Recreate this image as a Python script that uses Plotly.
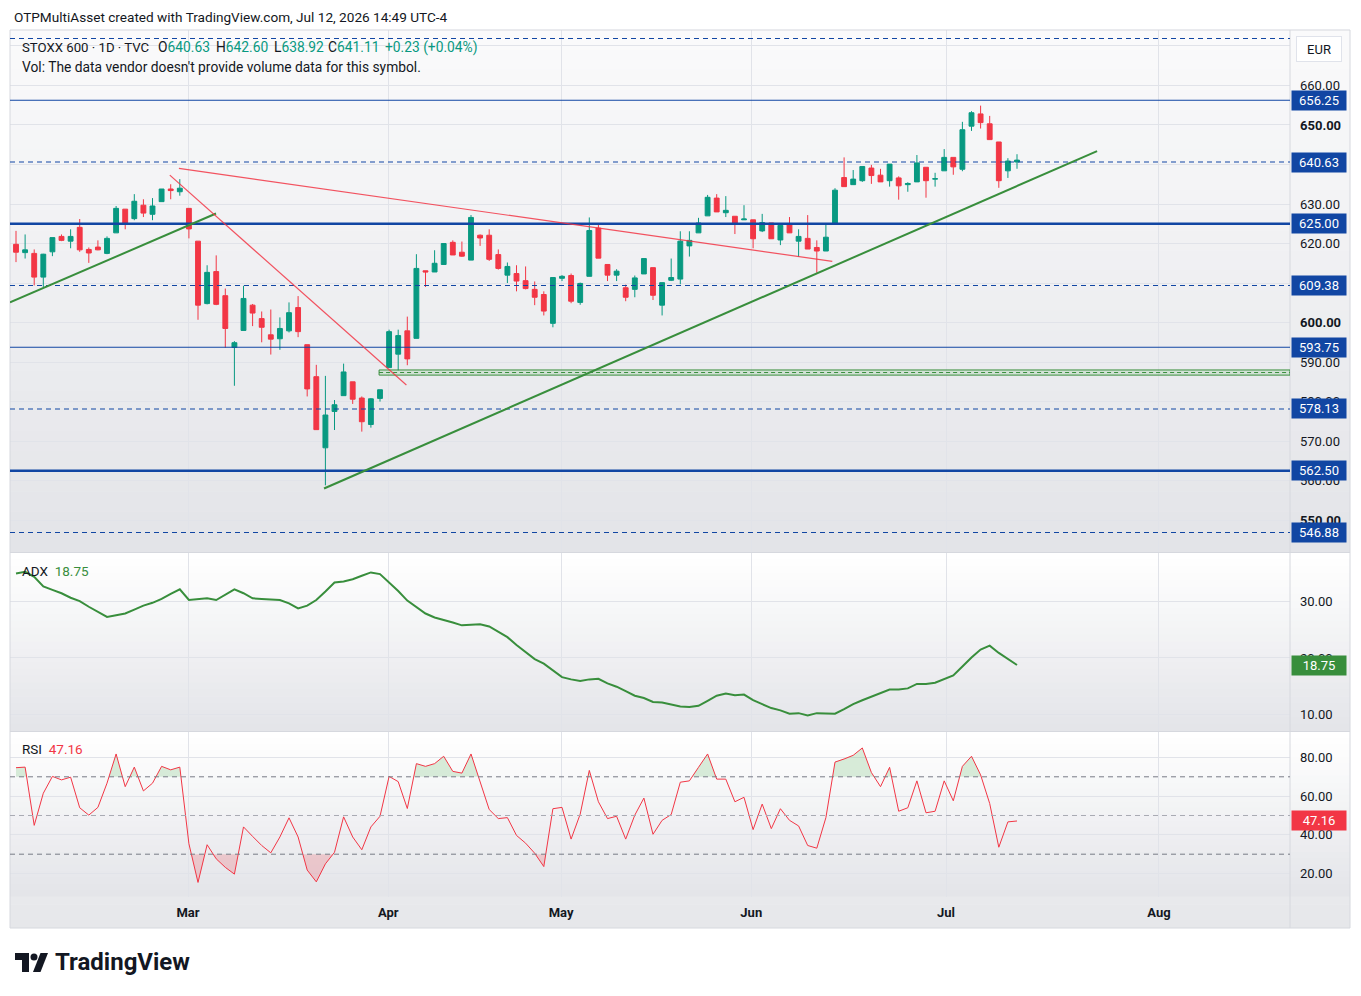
import plotly.graph_objects as go

W, H = 1361, 996

# ---------------- data ----------------
opens = [619.8, 617.7, 617.5, 611.5, 617.9, 621.8, 620.6, 624.1, 618.5, 619.1,
         617.5, 622.7, 628.7, 626.3, 629.7, 627.4, 630.6, 633.8, 633.1, 628.9,
         620.6, 604.8, 612.9, 606.8, 593.7, 598.0, 604.4, 601.0, 596.9, 595.9,
         597.9, 603.8, 594.4, 586.3, 568.3, 577.5, 581.5, 585.0, 580.9, 574.2,
         580.8, 588.6, 592.0, 597.9, 596.0, 613.1, 612.8, 614.7, 620.3, 617.8,
         615.8, 622.1, 622.1, 617.2, 612.0, 612.4, 610.6, 608.4, 607.1, 599.8,
         611.2, 611.9, 605.1, 611.7, 623.9, 614.7, 612.0, 608.8, 608.4, 612.3,
         613.9, 604.4, 610.7, 611.0, 619.4, 622.7, 627.0, 631.5, 627.8, 626.9,
         626.0, 626.0, 623.2, 625.2, 620.9, 624.9, 620.6, 621.3, 619.0, 618.1,
         625.0, 636.7, 634.9, 635.9, 639.1, 637.3, 635.9, 636.6, 634.9, 635.6,
         639.3, 636.3, 638.4, 641.8, 638.8, 649.7, 652.8, 650.3, 645.7, 638.4,
         640.63]
highs = [623.2, 622.3, 618.5, 617.4, 621.5, 622.3, 623.6, 626.2, 619.0, 620.8,
         621.8, 629.5, 628.7, 632.5, 631.2, 631.5, 633.8, 635.0, 636.3, 628.9,
         620.6, 614.5, 617.0, 608.6, 595.3, 609.3, 604.7, 602.8, 603.3, 601.3,
         605.1, 606.7, 594.4, 589.3, 586.5, 580.4, 589.6, 585.0, 581.3, 580.9,
         583.0, 598.2, 598.2, 601.5, 617.3, 613.1, 618.3, 620.0, 620.8, 620.5,
         627.2, 622.3, 623.6, 618.5, 615.2, 614.5, 614.2, 610.4, 607.9, 611.4,
         612.0, 612.4, 610.1, 626.6, 625.0, 614.7, 613.5, 609.6, 611.9, 616.2,
         613.9, 610.1, 616.2, 623.1, 623.1, 626.5, 632.3, 632.5, 632.0, 626.9,
         629.7, 626.0, 627.5, 625.2, 624.6, 626.7, 623.6, 627.2, 620.8, 625.2,
         634.0, 641.8, 638.6, 639.5, 639.9, 638.9, 640.1, 637.0, 635.5, 642.4,
         639.3, 637.9, 643.9, 641.8, 650.8, 653.5, 654.9, 652.3, 645.7, 641.6,
         642.60]
lows = [615.3, 616.2, 609.4, 609.0, 616.8, 620.6, 618.8, 617.9, 615.1, 618.3,
        617.3, 622.7, 623.6, 625.9, 626.7, 625.9, 630.6, 631.2, 632.1, 621.3,
        600.7, 604.6, 604.4, 593.6, 584.0, 598.0, 599.1, 595.0, 591.9, 593.1,
        597.5, 596.3, 581.3, 572.9, 558.8, 572.8, 581.5, 579.4, 572.4, 573.4,
        580.0, 588.6, 587.9, 589.2, 596.0, 609.0, 612.8, 614.7, 617.1, 616.6,
        615.8, 619.4, 615.6, 613.4, 610.0, 607.9, 608.4, 604.4, 601.8, 598.8,
        610.5, 604.9, 604.5, 611.7, 616.3, 610.5, 610.5, 605.4, 606.4, 612.3,
        605.7, 601.8, 610.5, 609.7, 616.7, 622.7, 627.0, 628.0, 626.7, 622.4,
        626.0, 618.8, 622.9, 621.2, 619.6, 622.7, 616.6, 618.6, 612.6, 618.1,
        625.0, 634.4, 634.9, 635.6, 635.1, 635.6, 634.4, 631.1, 633.1, 635.6,
        631.6, 634.4, 638.4, 637.4, 638.3, 648.5, 649.1, 646.3, 634.1, 636.6,
        638.92]
closes = [617.8, 618.4, 611.5, 617.3, 621.5, 620.8, 621.8, 618.4, 617.6, 618.4,
          621.3, 628.9, 625.1, 630.7, 627.7, 629.5, 633.8, 633.4, 634.0, 623.7,
          604.4, 612.7, 604.6, 598.5, 594.9, 606.1, 602.4, 598.8, 595.8, 598.5,
          602.5, 597.7, 583.2, 572.9, 576.6, 579.2, 587.5, 580.6, 574.9, 580.7,
          583.0, 597.7, 596.7, 590.8, 613.7, 612.8, 615.0, 620.0, 617.1, 616.8,
          626.6, 621.4, 616.0, 613.7, 614.2, 610.5, 608.6, 606.4, 602.9, 611.4,
          611.7, 605.4, 609.9, 623.3, 616.3, 612.0, 613.0, 606.4, 611.3, 616.2,
          606.9, 610.1, 611.4, 620.6, 620.8, 625.2, 631.7, 628.0, 628.4, 625.2,
          626.2, 621.2, 625.3, 621.2, 624.6, 622.7, 621.8, 618.6, 618.1, 621.6,
          633.5, 634.4, 636.3, 639.5, 637.2, 635.6, 640.1, 634.6, 635.2, 640.4,
          635.9, 636.4, 641.8, 639.4, 648.8, 653.1, 650.6, 646.3, 635.9, 640.88,
          641.11]

adx = [35.0, 35.3, 34.4, 32.7, 32.1, 31.5, 30.7, 30.1, 29.1, 28.2,
       27.3, 27.6, 27.9, 28.6, 29.3, 29.8, 30.5, 31.4, 32.2, 30.3,
       30.5, 30.6, 30.3, 31.2, 32.2, 31.5, 30.6, 30.5, 30.4, 30.3,
       29.7, 28.8, 29.3, 30.3, 31.8, 33.4, 33.6, 34.0, 34.6, 35.2,
       34.9, 33.4, 31.9, 30.2, 29.1, 27.9, 27.2, 26.8, 26.3, 25.8,
       25.9, 26.0, 25.6, 24.7, 23.7, 22.3, 21.0, 19.8, 19.0, 17.8,
       16.6, 16.2, 15.9, 16.2, 16.3, 15.5, 14.9, 14.1, 13.3, 12.9,
       12.2, 12.1, 11.7, 11.4, 11.3, 11.5, 12.4, 13.3, 13.7, 13.4,
       13.5, 12.5, 11.8, 11.1, 10.7, 10.1, 10.2, 9.8, 10.2, 10.1,
       10.1, 10.9, 11.8, 12.5, 13.1, 13.7, 14.4, 14.4, 14.6, 15.4,
       15.4, 15.6, 16.3, 16.9, 18.5, 20.1, 21.5, 22.2, 20.9, 19.8,
       18.75]

rsi = [74.7, 75.0, 44.9, 61.5, 70.2, 68.4, 69.8, 54.0, 50.2, 54.2,
       66.7, 81.8, 64.9, 75.0, 62.7, 66.7, 75.4, 73.6, 75.0, 35.4,
       15.4, 34.9, 27.6, 23.2, 19.7, 44.1, 39.2, 34.5, 30.7, 38.9,
       48.8, 38.9, 21.8, 15.7, 25.0, 31.0, 49.3, 38.9, 32.3, 44.1,
       49.6, 70.2, 67.5, 53.6, 76.8, 75.4, 76.8, 80.6, 72.8, 71.9,
       81.8, 67.5, 53.1, 48.4, 48.9, 39.7, 35.7, 30.5, 23.6, 53.5,
       54.2, 37.8, 50.7, 73.3, 57.1, 48.4, 49.6, 37.8, 50.2, 59.0,
       40.3, 47.5, 50.5, 67.2, 67.9, 74.9, 81.8, 68.8, 68.8, 57.1,
       59.4, 42.7, 55.9, 43.2, 53.5, 47.5, 44.6, 34.5, 33.1, 48.9,
       77.6, 79.2, 81.1, 84.9, 72.2, 64.9, 74.9, 52.2, 54.0, 67.9,
       51.4, 52.2, 67.9, 57.6, 75.4, 80.6, 71.0, 56.2, 33.6, 46.7,
       47.16]

month_ticks = [18.9, 40.9, 59.9, 80.8, 102.2, 125.6]
month_labels = ["Mar", "Apr", "May", "Jun", "Jul", "Aug"]

level_values = [671.88, 656.25, 640.63, 625.00, 609.38, 593.75, 578.13, 562.50, 546.88]
level_kinds = ["dash", "solid", "dash", "thick", "dash", "solid", "dash", "thick", "dash"]
level_labelled = [False, True, True, True, True, True, True, True, True]

price_ticks = [550, 560, 570, 580, 590, 600, 610, 620, 630, 640, 650, 660, 670]
price_tick_text = ["<b>550.00</b>", "560.00", "570.00", "580.00", "590.00", "<b>600.00</b>", "",
                   "620.00", "630.00", "", "<b>650.00</b>", "660.00", ""]
adx_ticks = [10, 20, 30]
rsi_ticks = [20, 40, 60, 80]
rsi_levels = [70, 50, 30]

symbol_info = "STOXX 600 · 1D · TVC"
ohlc_labels = ["O", "H", "L", "C"]
ohlc_values = ["640.63", "642.60", "638.92", "641.11"]
change_text = "+0.23 (+0.04%)"

# drawings: (x0, x1) in bar index, (y0, y1) in price
green_lines = [([-0.66, 21.98], [605.1, 627.6]), ([33.85, 118.8], [558.0, 643.4])]
red_lines = [([16.9, 42.9], [637.3, 584.2]), ([17.9, 89.7], [639.0, 615.5])]
zone_start, zone_low, zone_high = 39.9, 586.7, 588.0

last_adx, last_rsi = 18.75, 47.16

# ---------------- helpers ----------------
def px(x):
    return x / W


def py(y):
    return 1 - y / H


X0, X1, XA = 10, 1290, 1350
XR = [-0.66, 140.0]
P_TOP, P_BOT = 30, 552
A_TOP, A_BOT = 553, 731
R_TOP, R_BOT = 732, 897
AX_BOT = 928

UP, DN = "#089981", "#f23645"
BLUE = "#1146a3"
GREEN = "#388e3c"
GRID = "#e1e3e9"
TXT = "#131722"
FONT = "Roboto"

idx = list(range(len(closes)))

fig = go.Figure()

fig.add_trace(go.Candlestick(
    x=idx, open=opens, high=highs, low=lows, close=closes,
    increasing=dict(line=dict(color=UP, width=1), fillcolor=UP),
    decreasing=dict(line=dict(color=DN, width=1), fillcolor=DN),
    whiskerwidth=0, xaxis="x", yaxis="y", hoverinfo="skip", showlegend=False))

fig.add_trace(go.Scatter(x=idx, y=adx, mode="lines", line=dict(color=GREEN, width=2),
                         xaxis="x2", yaxis="y2", hoverinfo="skip", showlegend=False))

# RSI fills (computed crossing points)
dx, dy = [], []
for i, v in enumerate(rsi):
    if i > 0:
        a, b = rsi[i - 1], v
        cr = []
        for lvl in (70, 30):
            if (a - lvl) * (b - lvl) < 0:
                t = (lvl - a) / (b - a)
                cr.append((t, lvl))
        for t, lvl in sorted(cr):
            dx.append(i - 1 + t)
            dy.append(lvl)
    dx.append(i)
    dy.append(v)

fig.add_trace(go.Scatter(x=dx, y=[70] * len(dx), mode="lines", line=dict(width=0),
                         xaxis="x3", yaxis="y3", hoverinfo="skip", showlegend=False))
fig.add_trace(go.Scatter(x=dx, y=[max(v, 70) for v in dy], mode="lines", line=dict(width=0),
                         fill="tonexty", fillcolor="rgba(76,175,80,0.20)",
                         xaxis="x3", yaxis="y3", hoverinfo="skip", showlegend=False))
fig.add_trace(go.Scatter(x=dx, y=[30] * len(dx), mode="lines", line=dict(width=0),
                         xaxis="x3", yaxis="y3", hoverinfo="skip", showlegend=False))
fig.add_trace(go.Scatter(x=dx, y=[min(v, 30) for v in dy], mode="lines", line=dict(width=0),
                         fill="tonexty", fillcolor="rgba(242,54,69,0.20)",
                         xaxis="x3", yaxis="y3", hoverinfo="skip", showlegend=False))
fig.add_trace(go.Scatter(x=idx, y=rsi, mode="lines", line=dict(color="#f23645", width=1),
                         xaxis="x3", yaxis="y3", hoverinfo="skip", showlegend=False))

shapes = []


def grad(y0, y1, c0, c1, n=26):
    for k in range(n):
        t = k / (n - 1)
        c = tuple(round(c0[j] + (c1[j] - c0[j]) * t) for j in range(3))
        ya = y0 + (y1 - y0) * k / n
        yb = y0 + (y1 - y0) * (k + 1) / n
        shapes.append(dict(type="rect", xref="paper", yref="paper",
                           x0=px(X0), x1=px(XA), y0=py(yb), y1=py(ya) + 0.0006,
                           fillcolor="rgb(%d,%d,%d)" % c, line=dict(width=0), layer="below"))


grad(P_TOP, P_BOT, (250, 250, 251), (227, 228, 232))
grad(A_TOP, A_BOT, (255, 255, 255), (228, 229, 233))
grad(R_TOP, R_BOT, (255, 255, 255), (228, 229, 233))
grad(R_BOT, AX_BOT, (232, 233, 236), (230, 231, 234), 4)

# separators / frame
for yy in (P_TOP, A_TOP - 0.5, R_TOP - 0.5, AX_BOT):
    shapes.append(dict(type="line", xref="paper", yref="paper", x0=px(X0), x1=px(XA),
                       y0=py(yy), y1=py(yy), line=dict(color="#d6d8de", width=1), layer="above"))
for xx in (X0, X1, XA):
    shapes.append(dict(type="line", xref="paper", yref="paper", x0=px(xx), x1=px(xx),
                       y0=py(P_TOP), y1=py(AX_BOT), line=dict(color="#d6d8de", width=1), layer="above"))

# horizontal levels
for v, kind in zip(level_values, level_kinds):
    shapes.append(dict(type="line", xref="paper", yref="y", x0=px(X0), x1=px(X1), y0=v, y1=v,
                       line=dict(color=BLUE, width=2.4 if kind == "thick" else 1.1,
                                 dash="5px,4px" if kind == "dash" else "solid"),
                       layer="above"))

# RSI level lines
for v in rsi_levels:
    shapes.append(dict(type="line", xref="paper", yref="y3", x0=px(X0), x1=px(X1), y0=v, y1=v,
                       line=dict(color="#787b86" if v != 50 else "#a9abb3", width=1, dash="5px,4px"),
                       layer="above"))

# zone
shapes.append(dict(type="rect", xref="x", yref="y", x0=zone_start, x1=XR[1], y0=zone_low, y1=zone_high,
                   fillcolor="rgba(76,175,80,0.15)", line=dict(color=GREEN, width=1), layer="above"))
shapes.append(dict(type="line", xref="x", yref="y", x0=zone_start, x1=XR[1],
                   y0=(zone_low + zone_high) / 2, y1=(zone_low + zone_high) / 2,
                   line=dict(color=GREEN, width=1, dash="4px,3px"), layer="above"))

for xs, ys in green_lines:
    shapes.append(dict(type="line", xref="x", yref="y", x0=xs[0], x1=xs[1], y0=ys[0], y1=ys[1],
                       line=dict(color=GREEN, width=2), layer="above"))
for xs, ys in red_lines:
    shapes.append(dict(type="line", xref="x", yref="y", x0=xs[0], x1=xs[1], y0=ys[0], y1=ys[1],
                       line=dict(color="rgba(242,54,69,0.85)", width=1.2), layer="above"))

# TradingView logo


def path(pts):
    return "M " + " L ".join("%f,%f" % (px(a), py(b)) for a, b in pts) + " Z"


shapes.append(dict(type="path", xref="paper", yref="paper",
                   path=path([(15, 953), (29, 953), (29, 972), (22, 972), (22, 960), (15, 960)]),
                   fillcolor=TXT, line=dict(width=0)))
shapes.append(dict(type="circle", xref="paper", yref="paper", x0=px(30.5), x1=px(37.5),
                   y0=py(960.5), y1=py(953.5), fillcolor=TXT, line=dict(width=0)))
shapes.append(dict(type="path", xref="paper", yref="paper",
                   path=path([(40.5, 953), (48, 953), (40.5, 972), (33, 972)]),
                   fillcolor=TXT, line=dict(width=0)))

ann = []
NB = "\u00a0"


def text_at(x, y, text, size=13.8, color=TXT, bold=False):
    return dict(x=px(x), y=py(y), xref="paper", yref="paper", xanchor="left", yanchor="middle",
                text=("<b>%s</b>" % text) if bold else text, showarrow=False,
                font=dict(family=FONT, size=size, color=color))


ann.append(text_at(12, 17, "OTPMultiAsset created with TradingView.com, Jul 12, 2026 14:49 UTC-4", 13.6))

ann.append(text_at(20, 47, symbol_info, 13.2))
for lab, val, xpos in zip(ohlc_labels, ohlc_values, [156, 214, 272, 326]):
    ann.append(text_at(xpos, 47, lab + "<span style='color:%s'>%s</span>" % (UP, val), 13.8))
ann.append(text_at(383, 47, change_text, 13.8, UP))
ann.append(text_at(20, 67, "Vol: The data vendor doesn't provide volume data for this symbol."))
ann.append(text_at(20, 571, "ADX" + NB * 2 + "<span style='color:%s'>%.2f</span>" % (GREEN, last_adx), 13.5))
ann.append(text_at(20, 749, "RSI" + NB * 2 + "<span style='color:%s'>%.2f</span>" % (DN, last_rsi), 13.5))


def axis_label(v, yref, color):
    return dict(x=px(X1 + 1), y=v, xref="paper", yref=yref, xanchor="left", yanchor="middle",
                text="%.2f" % v, showarrow=False, bgcolor=color, width=50, height=15, borderpad=2,
                font=dict(family=FONT, size=13, color="white"), align="center")


for v, lab in zip(level_values, level_labelled):
    if lab:
        ann.append(axis_label(v, "y", BLUE))
ann.append(axis_label(last_adx, "y2", GREEN))
ann.append(axis_label(last_rsi, "y3", DN))

ann.append(dict(x=px(1319), y=py(48.5), xref="paper", yref="paper", xanchor="center", yanchor="middle",
                text="EUR", showarrow=False, bgcolor="white", bordercolor="#e0e3eb", borderwidth=1,
                width=40, height=20, borderpad=2, font=dict(family=FONT, size=13, color=TXT)))
ann.append(text_at(53, 962, "TradingView", 24, TXT, bold=True))

xcommon = dict(range=XR, tickvals=month_ticks, ticktext=["<b>%s</b>" % m for m in month_labels],
               showgrid=True, gridcolor=GRID, gridwidth=1, zeroline=False, showline=False, ticks="",
               domain=[px(X0), px(X1)], fixedrange=True)
ycommon = dict(side="right", showgrid=True, gridcolor=GRID, gridwidth=1, zeroline=False, showline=False,
               ticks="", tickfont=dict(family=FONT, size=13, color=TXT), ticklabelstandoff=9,
               tickformat=".2f", fixedrange=True)

fig.update_layout(
    width=W, height=H, margin=dict(l=0, r=0, t=0, b=0),
    paper_bgcolor="white", plot_bgcolor="rgba(0,0,0,0)", showlegend=False, boxgap=0.24,
    xaxis=dict(xcommon, anchor="y", showticklabels=False, rangeslider=dict(visible=False)),
    xaxis2=dict(xcommon, anchor="y2", showticklabels=False, matches="x"),
    xaxis3=dict(xcommon, anchor="y3", showticklabels=True, matches="x",
                tickfont=dict(family=FONT, size=13, color=TXT), ticklabelstandoff=6),
    yaxis=dict(ycommon, anchor="x", domain=[py(P_BOT), py(P_TOP)], range=[541.93, 674.04],
               tickvals=price_ticks, ticktext=price_tick_text),
    yaxis2=dict(ycommon, anchor="x2", domain=[py(A_BOT), py(A_TOP)], range=[7.03, 38.65],
                tickvals=adx_ticks),
    yaxis3=dict(ycommon, anchor="x3", domain=[py(R_BOT), py(R_TOP)], range=[7.88, 93.15],
                tickvals=rsi_ticks),
    shapes=shapes, annotations=ann,
)

fig.write_html("out.html")
